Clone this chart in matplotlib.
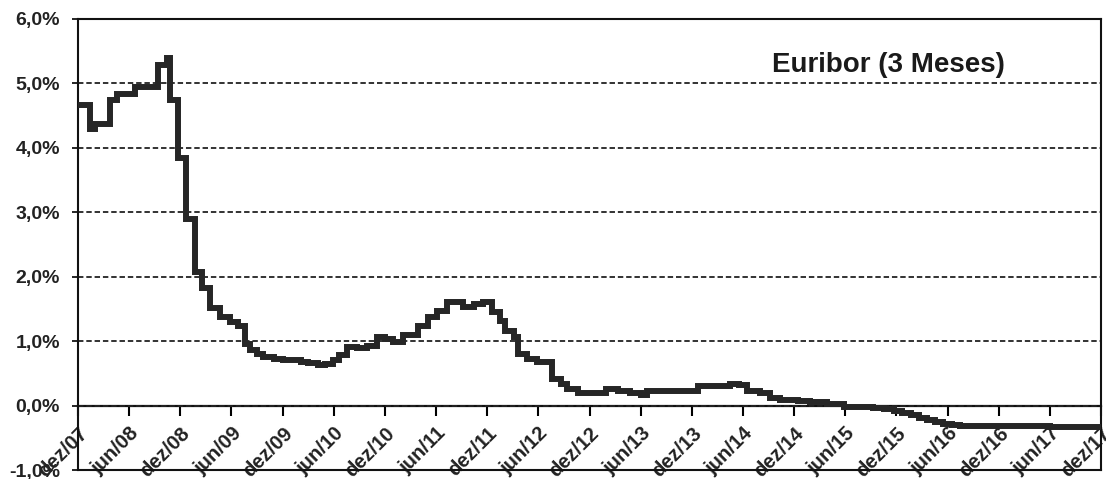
import matplotlib
matplotlib.use('Agg')
import matplotlib.pyplot as plt
import numpy as np

plt.rcParams['font.family'] = ['Liberation Sans', 'DejaVu Sans']

# months since dez/07 where the rate changes, and the rate (%) from then on
months = [0.0, 1.4, 2.0, 3.8, 4.6, 6.7, 9.4, 10.4, 10.8, 11.7,
          12.7, 13.7, 14.6, 15.5, 16.7, 17.8, 18.8, 19.6, 20.2, 21.0,
          21.7, 23.0, 24.1, 25.0, 26.1, 27.0, 28.1, 29.0, 29.9, 30.6,
          31.6, 32.7, 33.9, 35.1, 36.0, 37.0, 38.1, 39.0, 39.9, 41.0,
          42.1, 43.3, 44.3, 45.2, 46.4, 47.5, 48.6, 49.5, 50.1, 51.1,
          51.6, 52.7, 53.9, 55.6, 56.6, 57.4, 58.6, 61.3, 61.9, 63.3,
          64.8, 66.0, 66.8, 68.0, 70.0, 71.5, 72.7, 75.0, 76.5, 77.5,
          78.5, 80.0, 81.2, 82.4, 84.4, 85.9, 87.9, 89.8, 91.5, 93.3,
          94.5, 95.7, 96.7, 97.7, 98.7, 99.6, 100.5, 101.5, 102.5, 103.5,
          108.0, 114.0, 120.0]
rate = [4.67, 4.29, 4.37, 4.75, 4.84, 4.95, 5.29, 5.40, 4.75, 3.84,
        2.89, 2.08, 1.83, 1.52, 1.38, 1.30, 1.23, 0.95, 0.87, 0.80,
        0.76, 0.73, 0.70, 0.70, 0.68, 0.66, 0.63, 0.65, 0.71, 0.78,
        0.91, 0.90, 0.93, 1.07, 1.03, 0.99, 1.10, 1.10, 1.24, 1.38,
        1.47, 1.61, 1.60, 1.53, 1.58, 1.61, 1.46, 1.32, 1.15, 1.07,
        0.80, 0.73, 0.68, 0.42, 0.34, 0.26, 0.19, 0.19, 0.26, 0.22,
        0.20, 0.17, 0.23, 0.22, 0.22, 0.23, 0.31, 0.30, 0.34, 0.32,
        0.23, 0.20, 0.11, 0.08, 0.07, 0.05, 0.02, -0.02, -0.02, -0.03,
        -0.06, -0.09, -0.12, -0.15, -0.19, -0.23, -0.26, -0.28, -0.30, -0.31,
        -0.32, -0.33, -0.33]

tickMonths = list(range(0, 121, 6))
tickLabels = ['dez/07', 'jun/08', 'dez/08', 'jun/09', 'dez/09', 'jun/10', 'dez/10',
              'jun/11', 'dez/11', 'jun/12', 'dez/12', 'jun/13', 'dez/13', 'jun/14',
              'dez/14', 'jun/15', 'dez/15', 'jun/16', 'dez/16', 'jun/17', 'dez/17']
yTicks = [-1, 0, 1, 2, 3, 4, 5, 6]
yLabels = ['-1,0%', '0,0%', '1,0%', '2,0%', '3,0%', '4,0%', '5,0%', '6,0%']

figureWidth = 11.06
figureHeight = 4.79
fig = plt.figure(figsize=(figureWidth, figureHeight), dpi=100)

# panel placed in pixels of the 1106x479 picture
ax = fig.add_axes([78/1106, 9/479, 1023/1106, 451/479])
ax.set_xlim(0, 120)
ax.set_ylim(-1, 6)

for s in ax.spines.values():
    s.set_linewidth(1.5)
    s.set_color('#111111')

ax.set_xticks([])
ax.set_yticks(yTicks)
ax.set_yticklabels(yLabels, fontsize=14, fontweight='bold', color='#222222')
ax.tick_params(axis='y', length=4, width=1.2, pad=9)

ax.yaxis.grid(True, linestyle=(0, (3, 1.6)), linewidth=1.3, color='#222222')
ax.set_axisbelow(True)

# x axis drawn on the 0% line
secax = ax.secondary_xaxis(1/7)
secax.spines['bottom'].set_linewidth(1.6)
secax.spines['bottom'].set_color('#111111')
secax.set_xticks(tickMonths)
secax.set_xticklabels(tickLabels, rotation=45, ha='right', va='top',
                      rotation_mode='anchor', fontsize=14.5, fontweight='bold',
                      color='#222222')
secax.tick_params(axis='x', direction='out', length=7, width=1.5, pad=6)

ax.step(months, rate, where='post', color='#262626', linewidth=4.3,
        solid_joinstyle='miter', zorder=3)

ax.text(0.792, 0.898, 'Euribor (3 Meses)', transform=ax.transAxes,
        ha='center', va='center', fontsize=20, fontweight='bold',
        color='#1a1a1a')

plt.savefig('out.png', dpi=100)
